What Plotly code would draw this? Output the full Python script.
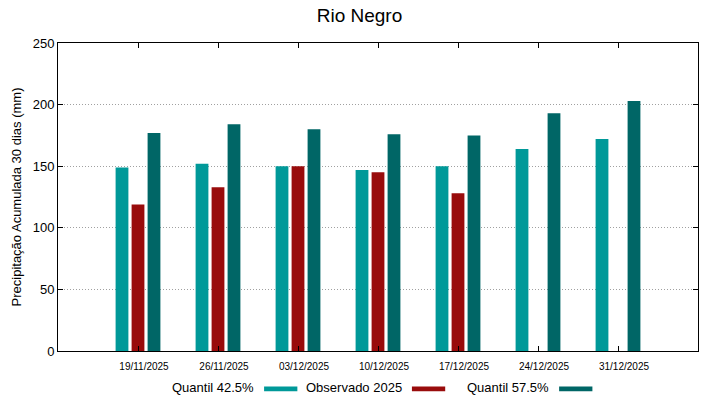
import plotly.graph_objects as go

dates = ["19/11/2025", "26/11/2025", "03/12/2025", "10/12/2025", "17/12/2025", "24/12/2025", "31/12/2025"]
q425 = [149, 152, 150, 147, 150, 164, 172]
obs = [119, 133, 150, 145, 128, None, None]
q575 = [177, 184, 180, 176, 175, 193, 203]
yticks = [0, 50, 100, 150, 200, 250]

c1, c2, c3 = "#009999", "#990c0c", "#006666"
font = "Liberation Sans, Arial, sans-serif"

fig = go.Figure()
fig.add_bar(x=dates, y=q425, name="Quantil 42.5%", marker=dict(color=c1, line=dict(width=0)), showlegend=False)
fig.add_bar(x=dates, y=obs, name="Observado 2025", marker=dict(color=c2, line=dict(width=0)), showlegend=False)
fig.add_bar(x=dates, y=q575, name="Quantil 57.5%", marker=dict(color=c3, line=dict(width=0)), showlegend=False)

fig.update_layout(
    width=719, height=399,
    margin=dict(l=58, r=21, t=43, b=48),
    paper_bgcolor="white", plot_bgcolor="white",
    barmode="group", bargap=0.4, bargroupgap=0.2,
    font=dict(family=font, color="black"),
    title=dict(text="Rio Negro", x=0.5, xanchor="center", y=0.962, yanchor="middle",
               font=dict(size=19, family=font, color="black")),
)
fig.update_xaxes(
    type="category", range=[-1, len(dates)], automargin=False,
    showline=True, linecolor="black", linewidth=1, mirror="ticks",
    ticks="inside", ticklen=5, tickcolor="black",
    showgrid=False, tickfont=dict(size=10), ticklabelshift=6, ticklabelstandoff=6,
)
fig.update_yaxes(
    range=[0, 250], tickvals=yticks, automargin=False,
    showline=True, linecolor="black", linewidth=1, mirror="ticks",
    ticks="inside", ticklen=5, tickcolor="black",
    showgrid=True, gridcolor="#a0a0a0", griddash="1px,2px", gridwidth=1,
    zeroline=False, tickfont=dict(size=13),
    title=dict(text="Precipitação Acumulada 30 dias (mm)", font=dict(size=13), standoff=8),
)

# legend (text followed by sample swatch, gnuplot style); x in plot-area fraction
legend_items = [("Quantil 42.5%", c1, 0.310), ("Observado 2025", c2, 0.541), ("Quantil 57.5%", c3, 0.771)]
for label, col, xr in legend_items:
    fig.add_annotation(text=label, xref="paper", yref="paper", x=xr, y=-0.119,
                       xanchor="right", yanchor="middle", showarrow=False, font=dict(size=13))
    fig.add_shape(type="rect", xref="paper", yref="paper",
                  x0=xr + 0.012, x1=xr + 0.064, y0=-0.115, y1=-0.131,
                  fillcolor=col, line=dict(width=0))

fig.write_html("out.html", config={"displayModeBar": False},
               post_script="document.body.style.margin='0';")
